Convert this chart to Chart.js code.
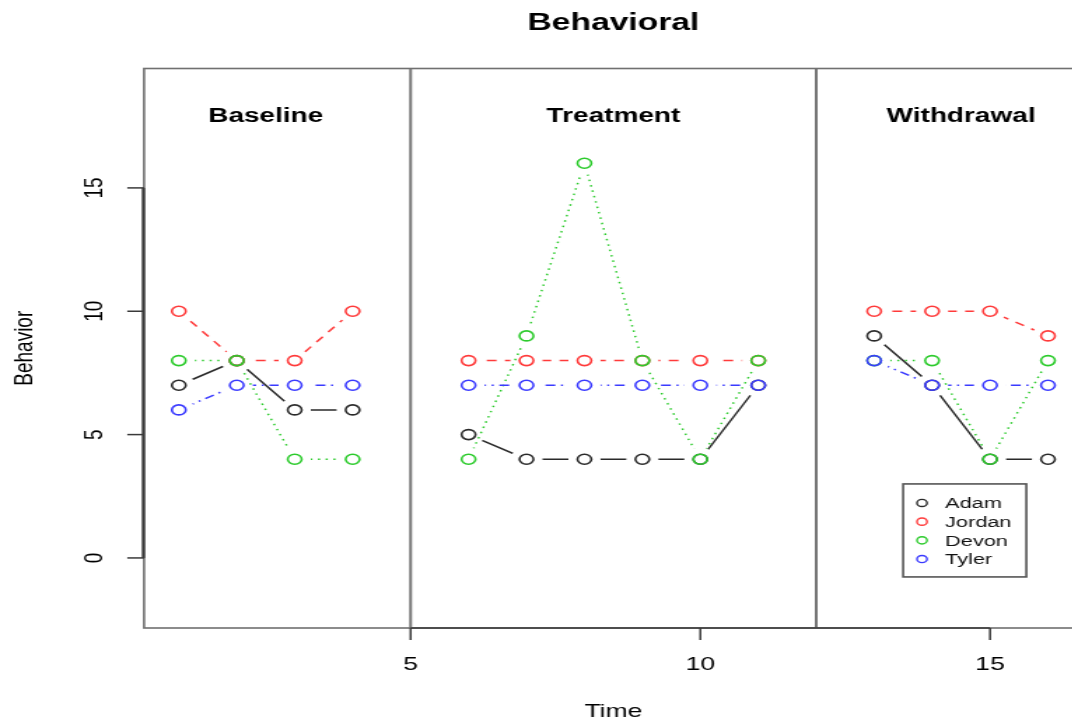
<!DOCTYPE html>
<html>
<head>
<meta charset="utf-8">
<script src="https://cdn.jsdelivr.net/npm/chart.js@4.4.1/dist/chart.umd.min.js"></script>
<style>
html, body { margin: 0; padding: 0; background: #fff; overflow: hidden; width: 1072px; height: 719px; }
#wrap { transform: scaleX(1.4); transform-origin: 0 0; width: 780px; height: 719px; }
canvas { display: block; }
</style>
</head>
<body>
<div id="wrap"><canvas id="chart" width="780" height="719"></canvas></div>
<script>
// Data (null = phase change, line breaks there)
const time   = [1, 2, 3, 4, 5, 6, 7, 8, 9, 10, 11, 12, 13, 14, 15, 16];
const adam   = [7, 8, 6, 6, null, 5, 4, 4, 4, 4, 7, null, 9, 7, 4, 4];
const jordan = [10, 8, 8, 10, null, 8, 8, 8, 8, 8, 8, null, 10, 10, 10, 9];
const devon  = [8, 8, 4, 4, null, 4, 9, 16, 8, 4, 8, null, 8, 8, 4, 8];
const tyler  = [6, 7, 7, 7, null, 7, 7, 7, 7, 7, 7, null, 8, 7, 7, 7];

const names = ['Adam', 'Jordan', 'Devon', 'Tyler'];
const phaseBreaks = [5, 12];
const phaseLabels = ['Baseline', 'Treatment', 'Withdrawal'];
const phaseLabelX = [2.5, 8.5, 14.5];
const phaseLabelY = 18;
const xTicks = [5, 10, 15];
const yTicks = [0, 5, 10, 15];

const colors = ['#2a2a2a', '#ff3a3a', '#2ccb2c', '#3a3aff'];
const dashes = [[], [7, 6], [1.5, 4], [1.5, 4, 7, 4]];
const FONT = '"Liberation Sans", Arial, sans-serif';

const series = [adam, jordan, devon, tyler];
const toXY = vals => time.map((t, i) => ({ x: t, y: vals[i] }));

const datasets = [];
series.forEach((vals, i) => {
  datasets.push({
    label: names[i] + ' line',
    data: toXY(vals),
    borderColor: colors[i],
    borderWidth: 1.5,
    borderDash: dashes[i],
    pointRadius: 0,
    showLine: true,
    spanGaps: false,
    gapLine: true,
    order: 20 - i
  });
  datasets.push({
    label: names[i],
    data: toXY(vals),
    borderColor: colors[i],
    backgroundColor: 'rgba(0,0,0,0)',
    pointBorderColor: colors[i],
    pointBackgroundColor: 'rgba(0,0,0,0)',
    pointBorderWidth: 1.6,
    pointRadius: 5,
    showLine: false,
    order: 10 - i
  });
});

function seg(ctx, x1, y1, x2, y2) {
  ctx.beginPath(); ctx.moveTo(x1, y1); ctx.lineTo(x2, y2); ctx.stroke();
}

const rStyle = {
  id: 'rStyle',
  beforeDatasetsDraw(chart) {
    const { ctx, chartArea: a, scales: { x } } = chart;
    ctx.save();
    // phase dividers
    ctx.strokeStyle = '#777';
    ctx.lineWidth = 2;
    phaseBreaks.forEach(b => {
      const px = x.getPixelForValue(b);
      seg(ctx, px, a.top, px, a.bottom);
    });
    // frame
    ctx.strokeStyle = '#707070';
    ctx.lineWidth = 1.6;
    ctx.strokeRect(a.left, a.top, a.right - a.left, a.bottom - a.top);
    ctx.restore();
  },
  beforeDatasetDraw(chart, args) {
    const ds = chart.data.datasets[args.index];
    if (!ds.gapLine) return;
    const ctx = chart.ctx;
    ctx.save();
    ctx.beginPath();
    ctx.rect(0, 0, chart.width, chart.height);
    args.meta.data.forEach(p => {
      if (p.skip) return;
      ctx.moveTo(p.x + 11.5, p.y);
      ctx.arc(p.x, p.y, 11.5, 0, Math.PI * 2);
    });
    ctx.clip('evenodd');
  },
  afterDatasetDraw(chart, args) {
    const ds = chart.data.datasets[args.index];
    if (ds.gapLine) chart.ctx.restore();
  },
  afterDraw(chart) {
    const { ctx, chartArea: a, scales: { x, y } } = chart;
    ctx.save();
    ctx.fillStyle = '#000';
    ctx.strokeStyle = '#3a3a3a';
    ctx.lineWidth = 2.2;

    // y axis
    seg(ctx, a.left - 0.5, y.getPixelForValue(yTicks[0]), a.left - 0.5, y.getPixelForValue(yTicks[yTicks.length - 1]));
    ctx.lineWidth = 1.5;
    ctx.font = '19px ' + FONT;
    ctx.textAlign = 'center';
    ctx.textBaseline = 'middle';
    yTicks.forEach(v => {
      const py = y.getPixelForValue(v);
      seg(ctx, a.left - 12, py, a.left, py);
      ctx.save();
      ctx.translate(a.left - 35, py);
      ctx.rotate(-Math.PI / 2);
      ctx.fillText(String(v), 0, 0);
      ctx.restore();
    });

    // x axis
    seg(ctx, x.getPixelForValue(xTicks[0]), a.bottom, x.getPixelForValue(xTicks[xTicks.length - 1]), a.bottom);
    xTicks.forEach(v => {
      const px = x.getPixelForValue(v);
      seg(ctx, px, a.bottom, px, a.bottom + 12);
      ctx.fillText(String(v), px, a.bottom + 37);
    });

    // axis titles
    const cx = (a.left + a.right) / 2;
    const cy = (a.top + a.bottom) / 2;
    ctx.fillText('Time', cx, 712);
    ctx.save();
    ctx.translate(18, cy);
    ctx.rotate(-Math.PI / 2);
    ctx.fillText('Behavior', 0, 0);
    ctx.restore();

    // main title
    ctx.font = 'bold 24px ' + FONT;
    ctx.fillText('Behavioral', cx, 23);

    // phase labels
    ctx.font = 'bold 20px ' + FONT;
    phaseLabels.forEach((t, i) => {
      ctx.fillText(t, x.getPixelForValue(phaseLabelX[i]), y.getPixelForValue(phaseLabelY) + 3);
    });

    // legend box
    const lx = x.getPixelForValue(13.5), ly = y.getPixelForValue(3);
    const lw = 88, lh = 93;
    ctx.strokeStyle = '#555';
    ctx.lineWidth = 1.6;
    ctx.strokeRect(lx, ly, lw, lh);
    ctx.font = '15.5px ' + FONT;
    ctx.textAlign = 'left';
    names.forEach((n, i) => {
      const ry = ly + 19 + i * 18.7;
      ctx.strokeStyle = colors[i];
      ctx.lineWidth = 1.4;
      ctx.beginPath();
      ctx.arc(lx + 13.5, ry, 3.6, 0, Math.PI * 2);
      ctx.stroke();
      ctx.fillStyle = '#111';
      ctx.fillText(n, lx + 30, ry + 1);
    });
    ctx.restore();
  }
};

new Chart(document.getElementById('chart'), {
  type: 'scatter',
  data: { datasets },
  options: {
    responsive: false,
    animation: false,
    devicePixelRatio: 1,
    layout: { padding: { left: 102.9, right: 4.3, top: 68.5, bottom: 91 } },
    plugins: { legend: { display: false }, tooltip: { enabled: false } },
    scales: {
      x: { type: 'linear', min: 0.4, max: 16.6, display: false },
      y: { type: 'linear', min: -2.84, max: 19.84, display: false }
    }
  },
  plugins: [rStyle]
});
</script>
</body>
</html>
